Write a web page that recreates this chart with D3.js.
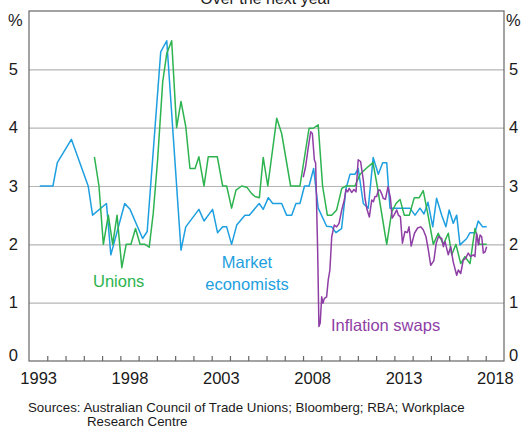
<!DOCTYPE html>
<html>
<head>
<meta charset="utf-8">
<script src="https://cdn.jsdelivr.net/npm/d3@7"></script>
<style>
  body { margin: 0; background: #fff; }
  svg text { font-family: "Liberation Sans", Arial, sans-serif; fill: #1a1a1a; }
</style>
</head>
<body>
<div id="chart"></div>
<script>
// survey / market measures of expected inflation, decimal years
var economistsYears = [1993.59, 1994.31, 1994.55, 1995.32, 1996.24, 1996.48, 1997.24, 1997.48,
  1998.24, 1998.53, 1999.22, 1999.47, 2000.21, 2000.54, 2001.32, 2001.58, 2002.3, 2002.58,
  2003.05, 2003.32, 2003.6, 2003.82, 2004.09, 2004.37, 2004.82, 2005.06, 2005.6, 2005.82,
  2006.1, 2006.34, 2006.83, 2007.1, 2007.38, 2007.61, 2007.83, 2008.08, 2008.33, 2008.58,
  2008.83, 2009.29, 2009.57, 2009.8, 2010.11, 2010.35, 2010.57, 2010.84, 2011.02, 2011.3,
  2011.57, 2011.84, 2012.12, 2012.36, 2012.58, 2012.76, 2012.94, 2013.85, 2014.13, 2014.4,
  2014.62, 2014.84, 2015.1, 2015.31, 2015.59, 2015.82, 2016.0, 2016.22, 2016.41, 2016.59,
  2016.96, 2017.14, 2017.41, 2017.59, 2017.83, 2018.05];
var economistsValues = [3.0, 3.0, 3.4, 3.8, 3.0, 2.5, 2.7, 1.82,
  2.7, 2.6, 2.1, 2.22, 5.3, 5.49, 1.9, 2.3, 2.6, 2.4,
  2.6, 2.2, 2.3, 2.3, 2.0, 2.33, 2.5, 2.5, 2.7, 2.6,
  2.8, 2.7, 2.7, 2.5, 2.5, 2.7, 2.7, 3.0, 3.0, 3.3,
  2.62, 2.31, 2.3, 2.2, 2.27, 2.95, 3.2, 3.2, 3.3, 2.7,
  2.62, 3.49, 3.2, 3.4, 3.4, 2.62, 2.62, 2.62, 2.5, 2.62,
  2.52, 2.72, 2.3, 2.79, 2.5, 2.3, 2.59, 2.36, 2.5, 1.99,
  2.1, 2.2, 2.2, 2.4, 2.3, 2.3];

var unionsYears = [1996.58, 1996.83, 1997.07, 1997.34, 1997.58, 1997.82, 1998.08, 1998.32,
  1998.58, 1998.83, 1999.08, 1999.35, 1999.58, 1999.8, 2000.04, 2000.32, 2000.54, 2000.81,
  2001.08, 2001.32, 2001.58, 2001.81, 2002.09, 2002.3, 2002.58, 2002.81, 2003.31, 2003.6,
  2003.82, 2004.09, 2004.33, 2004.64, 2004.92, 2005.19, 2005.37, 2005.61, 2005.82, 2006.07,
  2006.56, 2006.83, 2007.32, 2007.83, 2008.33, 2008.56, 2008.83, 2009.07, 2009.33, 2009.57,
  2009.84, 2010.12, 2010.35, 2010.84, 2011.12, 2011.45, 2011.83, 2012.06, 2012.58, 2012.85,
  2013.09, 2013.31, 2013.54, 2013.82, 2014.09, 2014.36, 2014.58, 2014.86, 2015.13, 2015.4,
  2015.68, 2015.95, 2016.14, 2016.37, 2016.63, 2016.86, 2017.14, 2017.41, 2017.65, 2018.05];
var unionsValues = [3.5, 3.0, 2.0, 2.5, 2.0, 2.5, 1.6, 2.0,
  2.0, 2.27, 2.0, 2.0, 1.95, 2.53, 3.45, 4.79, 5.27, 5.49,
  4.0, 4.45, 4.02, 3.3, 3.3, 3.5, 3.0, 3.5, 3.5, 3.0,
  3.0, 2.62, 2.93, 3.0, 2.98, 2.87, 2.82, 2.8, 3.49, 3.0,
  4.16, 3.9, 3.0, 3.0, 3.99, 3.99, 4.05, 3.0, 2.5, 2.5,
  2.59, 2.96, 3.0, 3.0, 3.2, 3.3, 3.4, 3.0, 2.0, 2.55,
  2.7, 2.77, 2.5, 2.5, 2.8, 2.8, 2.92, 2.47, 2.0, 2.19,
  2.0, 2.19, 1.82, 2.0, 1.67, 1.79, 1.67, 2.27, 2.0, 2.0];

var swapsYears = [2008.01, 2008.14, 2008.29, 2008.42, 2008.51, 2008.62, 2008.69, 2008.8,
  2008.87, 2008.94, 2009.02, 2009.09, 2009.16, 2009.29, 2009.38, 2009.47, 2009.57, 2009.71,
  2009.84, 2009.97, 2010.12, 2010.26, 2010.35, 2010.44, 2010.53, 2010.66, 2010.79, 2010.9,
  2011.02, 2011.15, 2011.3, 2011.39, 2011.5, 2011.63, 2011.76, 2011.85, 2011.94, 2012.03,
  2012.12, 2012.21, 2012.3, 2012.39, 2012.51, 2012.65, 2012.78, 2012.88, 2012.98, 2013.13,
  2013.22, 2013.33, 2013.44, 2013.58, 2013.71, 2013.8, 2013.92, 2014.1, 2014.27, 2014.44,
  2014.58, 2014.73, 2014.86, 2014.99, 2015.16, 2015.29, 2015.41, 2015.59, 2015.68, 2015.77,
  2015.95, 2016.08, 2016.22, 2016.41, 2016.5, 2016.63, 2016.77, 2016.9, 2017.04, 2017.17,
  2017.32, 2017.41, 2017.5, 2017.6, 2017.69, 2017.78, 2017.87, 2017.96, 2018.05];
var swapsValues = [3.15, 3.33, 3.67, 3.93, 3.9, 3.45, 3.39, 1.9,
  0.59, 0.65, 1.1, 0.99, 1.07, 1.1, 1.39, 1.56, 2.13, 2.33,
  2.3, 2.36, 2.59, 2.76, 2.94, 2.9, 2.96, 2.89, 2.94, 2.9,
  3.45, 3.42, 3.1, 2.79, 2.6, 2.47, 2.76, 2.73, 2.82, 2.82,
  2.93, 2.93, 2.87, 2.79, 2.77, 2.99, 2.8, 2.45, 2.5, 2.59,
  2.5, 2.47, 2.02, 2.22, 2.2, 2.3, 1.97, 2.19, 2.28, 2.3,
  2.25, 2.13, 1.9, 1.64, 1.72, 2.02, 2.13, 2.1, 1.96, 2.05,
  1.82, 1.96, 1.7, 1.47, 1.56, 1.5, 1.73, 1.76, 1.85, 1.79,
  1.82, 1.79, 2.19, 1.99, 2.16, 2.13, 1.85, 1.87, 1.96];

var yTicks = [0, 1, 2, 3, 4, 5];
var yGrid = [1, 2, 3, 4, 5];
var yearLabels = [1993, 1998, 2003, 2008, 2013, 2018];

var width = 523;
var height = 428;
var margin = { "left": 29, "right": 19, "top": 11, "bottom": 67 };

var svg = d3.select("#chart")
  .append("svg")
  .attr("width", width)
  .attr("height", height);

var x_scale = d3.scaleLinear()
  .domain([1993, 2019])
  .range([margin.left, width - margin.right]);

var y_scale = d3.scaleLinear()
  .domain([0, 6])
  .range([height - margin.bottom, margin.top]);

// gridlines
svg.append("g")
  .attr("class", "grid")
  .attr("transform", "translate(" + margin.left + ",0)")
  .call(d3.axisLeft(y_scale).tickValues(yGrid).tickSize(-(width - margin.left - margin.right)).tickFormat(""))
  .call(function(g) { g.select(".domain").remove(); })
  .selectAll("line")
  .attr("stroke", "#b5b5b5")
  .attr("stroke-width", 1.2);

// frame
svg.append("rect")
  .attr("x", margin.left)
  .attr("y", margin.top)
  .attr("width", width - margin.left - margin.right)
  .attr("height", height - margin.top - margin.bottom)
  .attr("fill", "none")
  .attr("stroke", "#666")
  .attr("stroke-width", 1.2);

// year ticks along the bottom
var yearTicks = d3.range(1994, 2019);
svg.append("g")
  .attr("transform", "translate(0," + (height - margin.bottom) + ")")
  .call(d3.axisBottom(x_scale).tickValues(yearTicks).tickSize(-5).tickFormat(""))
  .call(function(g) { g.select(".domain").remove(); })
  .selectAll("line")
  .attr("stroke", "#666")
  .attr("stroke-width", 1.2);

// year labels, centred on each year
svg.append("g")
  .attr("transform", "translate(0," + (height - margin.bottom) + ")")
  .call(d3.axisBottom(x_scale).tickValues(yearLabels.map(function(d) { return d + 0.5; }))
    .tickSize(0).tickPadding(11).tickFormat(function(d) { return Math.floor(d); }))
  .call(function(g) { g.select(".domain").remove(); })
  .selectAll("text")
  .attr("font-size", "16.5px")
  .attr("fill", "#1a1a1a");

// y labels both sides; the zero is lifted clear of the year labels
function liftZero(g) {
  g.select(".domain").remove();
  g.selectAll(".tick")
    .filter(function(d) { return d === 0; })
    .select("text")
    .attr("dy", "-0.05em");
  g.selectAll("text")
    .attr("font-size", "16.5px")
    .attr("fill", "#1a1a1a");
}

svg.append("g")
  .attr("transform", "translate(" + margin.left + ",0)")
  .call(d3.axisLeft(y_scale).tickValues(yTicks).tickSize(0).tickPadding(11).tickFormat(d3.format("d")))
  .call(liftZero);

svg.append("g")
  .attr("transform", "translate(" + (width - margin.right) + ",0)")
  .call(d3.axisRight(y_scale).tickValues(yTicks).tickSize(0).tickPadding(5).tickFormat(d3.format("d")))
  .call(liftZero);

svg.append("text").attr("x", 8).attr("y", 26).attr("font-size", "16.5px").text("%");
svg.append("text").attr("x", 506).attr("y", 26).attr("font-size", "16.5px").text("%");

svg.append("text")
  .attr("x", 266).attr("y", 4)
  .attr("text-anchor", "middle")
  .attr("font-size", "16px")
  .text("Over the next year");

// series
var line = d3.line()
  .x(function(d) { return x_scale(d[0]); })
  .y(function(d) { return y_scale(d[1]); });

function addSeries(years, values, colour) {
  svg.append("path")
    .datum(d3.zip(years, values))
    .attr("d", line)
    .attr("fill", "none")
    .attr("stroke", colour)
    .attr("stroke-width", 1.5)
    .attr("stroke-linejoin", "round");
}

var blue = "#1e9fe0";
var green = "#2db34f";
var purple = "#8e3ea5";

addSeries(economistsYears, economistsValues, blue);
addSeries(unionsYears, unionsValues, green);
addSeries(swapsYears, swapsValues, purple);

// series labels
svg.append("text").attr("x", 93).attr("y", 287).attr("font-size", "16.5px")
  .style("fill", green).text("Unions");
svg.append("text").attr("x", 247).attr("y", 268).attr("text-anchor", "middle").attr("font-size", "16.5px")
  .style("fill", blue).text("Market");
svg.append("text").attr("x", 247).attr("y", 290).attr("text-anchor", "middle").attr("font-size", "16.5px")
  .style("fill", blue).text("economists");
svg.append("text").attr("x", 331).attr("y", 331).attr("font-size", "16.5px")
  .style("fill", purple).text("Inflation swaps");

// sources
svg.append("text").attr("x", 28).attr("y", 412).attr("font-size", "13.3px")
  .text("Sources: Australian Council of Trade Unions; Bloomberg; RBA; Workplace");
svg.append("text").attr("x", 87).attr("y", 426).attr("font-size", "13.3px")
  .text("Research Centre");
</script>
</body>
</html>
